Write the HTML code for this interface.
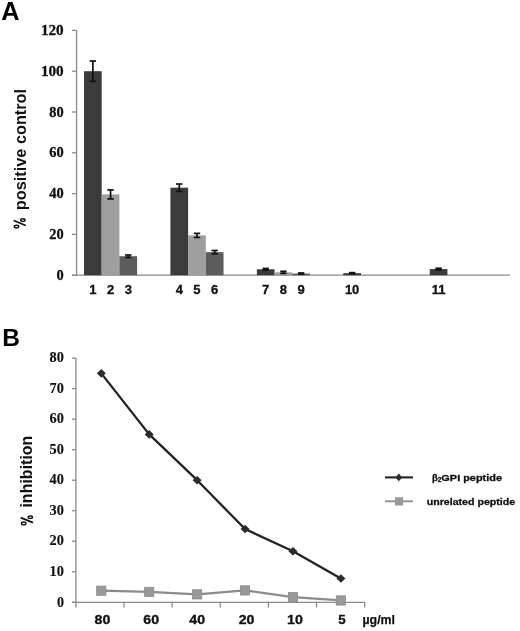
<!DOCTYPE html><html><head><meta charset="utf-8"><style>html,body{margin:0;padding:0;background:#fff;}svg{display:block;will-change:transform;}</style></head><body>
<svg width="520" height="631" viewBox="0 0 520 631">
<rect width="520" height="631" fill="#fff"/>
<text x="1.3" y="19.6" font-family="Liberation Sans" font-weight="bold" font-size="25" fill="#000" textLength="18.3" lengthAdjust="spacingAndGlyphs">A</text>
<text x="2.2" y="346.4" font-family="Liberation Sans" font-weight="bold" font-size="24.5" fill="#000">B</text>
<g stroke="#8a8a8a" stroke-width="1.3" fill="none">
<line x1="76.6" y1="30.40" x2="76.6" y2="275.8"/>
<line x1="72" y1="275.20" x2="76.6" y2="275.20"/>
<line x1="72" y1="234.40" x2="76.6" y2="234.40"/>
<line x1="72" y1="193.60" x2="76.6" y2="193.60"/>
<line x1="72" y1="152.80" x2="76.6" y2="152.80"/>
<line x1="72" y1="112.00" x2="76.6" y2="112.00"/>
<line x1="72" y1="71.20" x2="76.6" y2="71.20"/>
<line x1="72" y1="30.40" x2="76.6" y2="30.40"/>
<line x1="72" y1="275.2" x2="510" y2="275.2"/>
</g>
<g font-family="Liberation Serif" font-weight="bold" font-size="14.2" fill="#111" stroke="#111" stroke-width="0.3" text-anchor="end">
<text x="63.7" y="279.70" textLength="7.2" lengthAdjust="spacingAndGlyphs">0</text>
<text x="63.7" y="238.90" textLength="14.4" lengthAdjust="spacingAndGlyphs">20</text>
<text x="63.7" y="198.10" textLength="14.4" lengthAdjust="spacingAndGlyphs">40</text>
<text x="63.7" y="157.30" textLength="14.4" lengthAdjust="spacingAndGlyphs">60</text>
<text x="63.7" y="116.50" textLength="14.4" lengthAdjust="spacingAndGlyphs">80</text>
<text x="63.7" y="75.70" textLength="22.8" lengthAdjust="spacingAndGlyphs">100</text>
<text x="63.7" y="34.90" textLength="22.8" lengthAdjust="spacingAndGlyphs">120</text>
</g>
<rect x="84.00" y="71.20" width="17.7" height="204.00" fill="#3b3b3b"/>
<rect x="101.70" y="194.42" width="17.7" height="80.78" fill="#9f9f9f"/>
<rect x="119.40" y="256.23" width="17.7" height="18.97" fill="#5c5c5c"/>
<rect x="170.43" y="187.68" width="17.7" height="87.52" fill="#3b3b3b"/>
<rect x="188.13" y="235.42" width="17.7" height="39.78" fill="#9f9f9f"/>
<rect x="205.83" y="252.15" width="17.7" height="23.05" fill="#5c5c5c"/>
<rect x="256.86" y="269.28" width="17.7" height="5.92" fill="#3b3b3b"/>
<rect x="274.56" y="272.34" width="17.7" height="2.86" fill="#9f9f9f"/>
<rect x="292.26" y="273.57" width="17.7" height="1.63" fill="#5c5c5c"/>
<rect x="343.29" y="273.16" width="17.7" height="2.04" fill="#3b3b3b"/>
<rect x="429.72" y="269.08" width="17.7" height="6.12" fill="#3b3b3b"/>
<g stroke="#111" stroke-width="1.7" fill="none">
<line x1="92.85" y1="61.00" x2="92.85" y2="81.40"/>
<line x1="89.65" y1="61.00" x2="96.05" y2="61.00"/>
<line x1="89.65" y1="81.40" x2="96.05" y2="81.40"/>
<line x1="110.55" y1="189.93" x2="110.55" y2="198.90"/>
<line x1="107.35" y1="189.93" x2="113.75" y2="189.93"/>
<line x1="107.35" y1="198.90" x2="113.75" y2="198.90"/>
<line x1="128.25" y1="255.00" x2="128.25" y2="257.45"/>
<line x1="125.05" y1="255.00" x2="131.45" y2="255.00"/>
<line x1="125.05" y1="257.45" x2="131.45" y2="257.45"/>
<line x1="179.28" y1="184.01" x2="179.28" y2="191.36"/>
<line x1="176.08" y1="184.01" x2="182.48" y2="184.01"/>
<line x1="176.08" y1="191.36" x2="182.48" y2="191.36"/>
<line x1="196.98" y1="233.38" x2="196.98" y2="237.46"/>
<line x1="193.78" y1="233.38" x2="200.18" y2="233.38"/>
<line x1="193.78" y1="237.46" x2="200.18" y2="237.46"/>
<line x1="214.68" y1="250.52" x2="214.68" y2="253.78"/>
<line x1="211.48" y1="250.52" x2="217.88" y2="250.52"/>
<line x1="211.48" y1="253.78" x2="217.88" y2="253.78"/>
<line x1="265.71" y1="268.47" x2="265.71" y2="270.10"/>
<line x1="262.51" y1="268.47" x2="268.91" y2="268.47"/>
<line x1="262.51" y1="270.10" x2="268.91" y2="270.10"/>
<line x1="283.41" y1="271.32" x2="283.41" y2="273.36"/>
<line x1="280.21" y1="271.32" x2="286.61" y2="271.32"/>
<line x1="280.21" y1="273.36" x2="286.61" y2="273.36"/>
<line x1="301.11" y1="272.96" x2="301.11" y2="274.18"/>
<line x1="297.91" y1="272.96" x2="304.31" y2="272.96"/>
<line x1="297.91" y1="274.18" x2="304.31" y2="274.18"/>
<line x1="352.14" y1="272.65" x2="352.14" y2="273.67"/>
<line x1="348.94" y1="272.65" x2="355.34" y2="272.65"/>
<line x1="348.94" y1="273.67" x2="355.34" y2="273.67"/>
<line x1="438.57" y1="268.26" x2="438.57" y2="269.90"/>
<line x1="435.37" y1="268.26" x2="441.77" y2="268.26"/>
<line x1="435.37" y1="269.90" x2="441.77" y2="269.90"/>
</g>
<g font-family="Liberation Sans" font-weight="bold" font-size="13" fill="#111" stroke="#111" stroke-width="0.3" text-anchor="middle">
<text x="92.85" y="294.2">1</text>
<text x="110.55" y="294.2">2</text>
<text x="128.25" y="294.2">3</text>
<text x="179.28" y="294.2">4</text>
<text x="196.98" y="294.2">5</text>
<text x="214.68" y="294.2">6</text>
<text x="265.71" y="294.2">7</text>
<text x="283.41" y="294.2">8</text>
<text x="301.11" y="294.2">9</text>
<text x="352.14" y="294.2">10</text>
<text x="438.57" y="294.2">11</text>
</g>
<text transform="translate(25.6,88.9) rotate(-90)" font-family="Liberation Sans" font-weight="bold" font-size="16.3" fill="#111" text-anchor="end">positive control</text>
<g fill="none" stroke="#111"><ellipse cx="22.9" cy="220.1" rx="2.2" ry="1.3" stroke-width="1.4"/><ellipse cx="16.5" cy="226.6" rx="2.3" ry="1.35" stroke-width="1.4"/><line x1="14.3" y1="220.7" x2="25.2" y2="225.2" stroke-width="1.7" stroke-linecap="round"/></g>
<g stroke="#8a8a8a" stroke-width="1.3" fill="none">
<line x1="75.9" y1="358.10" x2="75.9" y2="607.5"/>
<line x1="72" y1="602.30" x2="75.9" y2="602.30"/>
<line x1="72" y1="571.77" x2="75.9" y2="571.77"/>
<line x1="72" y1="541.25" x2="75.9" y2="541.25"/>
<line x1="72" y1="510.72" x2="75.9" y2="510.72"/>
<line x1="72" y1="480.20" x2="75.9" y2="480.20"/>
<line x1="72" y1="449.67" x2="75.9" y2="449.67"/>
<line x1="72" y1="419.15" x2="75.9" y2="419.15"/>
<line x1="72" y1="388.62" x2="75.9" y2="388.62"/>
<line x1="72" y1="358.10" x2="75.9" y2="358.10"/>
<line x1="72" y1="602.3" x2="364.7" y2="602.3"/>
<line x1="124.03" y1="602.3" x2="124.03" y2="607.5"/>
<line x1="172.15" y1="602.3" x2="172.15" y2="607.5"/>
<line x1="220.28" y1="602.3" x2="220.28" y2="607.5"/>
<line x1="268.40" y1="602.3" x2="268.40" y2="607.5"/>
<line x1="316.52" y1="602.3" x2="316.52" y2="607.5"/>
<line x1="364.65" y1="602.3" x2="364.65" y2="607.5"/>
</g>
<g font-family="Liberation Serif" font-weight="bold" font-size="14" fill="#111" stroke="#111" stroke-width="0.15" text-anchor="end">
<text x="63.9" y="606.50" textLength="7.0" lengthAdjust="spacingAndGlyphs">0</text>
<text x="63.9" y="575.98" textLength="14.3" lengthAdjust="spacingAndGlyphs">10</text>
<text x="63.9" y="545.45" textLength="14.3" lengthAdjust="spacingAndGlyphs">20</text>
<text x="63.9" y="514.92" textLength="14.3" lengthAdjust="spacingAndGlyphs">30</text>
<text x="63.9" y="484.40" textLength="14.3" lengthAdjust="spacingAndGlyphs">40</text>
<text x="63.9" y="453.87" textLength="14.3" lengthAdjust="spacingAndGlyphs">50</text>
<text x="63.9" y="423.35" textLength="14.3" lengthAdjust="spacingAndGlyphs">60</text>
<text x="63.9" y="392.82" textLength="14.3" lengthAdjust="spacingAndGlyphs">70</text>
<text x="63.9" y="362.30" textLength="14.3" lengthAdjust="spacingAndGlyphs">80</text>
</g>
<polyline points="101.30,373.36 149.22,434.41 197.14,480.20 245.06,529.04 292.98,551.32 340.90,578.49" fill="none" stroke="#222" stroke-width="2.3" stroke-linejoin="round"/>
<path d="M101.30,369.06 L105.80,373.36 L101.30,377.66 L96.80,373.36Z" fill="#2b2b2b"/>
<path d="M149.22,430.11 L153.72,434.41 L149.22,438.71 L144.72,434.41Z" fill="#2b2b2b"/>
<path d="M197.14,475.90 L201.64,480.20 L197.14,484.50 L192.64,480.20Z" fill="#2b2b2b"/>
<path d="M245.06,524.74 L249.56,529.04 L245.06,533.34 L240.56,529.04Z" fill="#2b2b2b"/>
<path d="M292.98,547.02 L297.48,551.32 L292.98,555.62 L288.48,551.32Z" fill="#2b2b2b"/>
<path d="M340.90,574.19 L345.40,578.49 L340.90,582.79 L336.40,578.49Z" fill="#2b2b2b"/>
<polyline points="101.30,590.70 149.22,591.92 197.14,594.36 245.06,590.40 292.98,597.11 340.90,600.47" fill="none" stroke="#8c8c8c" stroke-width="2.2" stroke-linejoin="round"/>
<rect x="96.70" y="586.10" width="9.2" height="9.2" fill="#999" stroke="#8a8a8a" stroke-width="0.8"/>
<rect x="144.62" y="587.32" width="9.2" height="9.2" fill="#999" stroke="#8a8a8a" stroke-width="0.8"/>
<rect x="192.54" y="589.76" width="9.2" height="9.2" fill="#999" stroke="#8a8a8a" stroke-width="0.8"/>
<rect x="240.46" y="585.80" width="9.2" height="9.2" fill="#999" stroke="#8a8a8a" stroke-width="0.8"/>
<rect x="288.38" y="592.51" width="9.2" height="9.2" fill="#999" stroke="#8a8a8a" stroke-width="0.8"/>
<rect x="336.30" y="595.87" width="9.2" height="9.2" fill="#999" stroke="#8a8a8a" stroke-width="0.8"/>
<g font-family="Liberation Sans" font-weight="bold" font-size="12" fill="#111" stroke="#111" stroke-width="0.3" text-anchor="middle">
<text x="102.5" y="624.2" textLength="15.8" lengthAdjust="spacingAndGlyphs">80</text>
<text x="151.25" y="624.2" textLength="15.8" lengthAdjust="spacingAndGlyphs">60</text>
<text x="197.25" y="624.2" textLength="15.8" lengthAdjust="spacingAndGlyphs">40</text>
<text x="246.6" y="624.2" textLength="15.8" lengthAdjust="spacingAndGlyphs">20</text>
<text x="295" y="624.2" textLength="15.8" lengthAdjust="spacingAndGlyphs">10</text>
<text x="341.9" y="624.2" textLength="7.4" lengthAdjust="spacingAndGlyphs">5</text>
</g>
<text x="362.5" y="623.5" font-family="Liberation Sans" font-weight="bold" font-size="12" fill="#111" stroke="#111" stroke-width="0.25" textLength="32.5" lengthAdjust="spacingAndGlyphs">µg/ml</text>
<text transform="translate(32.2,435.6) rotate(-90)" font-family="Liberation Sans" font-weight="bold" font-size="16" fill="#111" text-anchor="end">inhibition</text>
<g fill="none" stroke="#111"><ellipse cx="30.3" cy="517.2" rx="2.2" ry="1.2" stroke-width="1.4"/><ellipse cx="23.7" cy="523.4" rx="2.2" ry="1.45" stroke-width="1.4"/><line x1="21.3" y1="517.9" x2="32.4" y2="522.4" stroke-width="1.7" stroke-linecap="round"/></g>
<line x1="385" y1="477.4" x2="413" y2="477.4" stroke="#222" stroke-width="2.1"/>
<path d="M398.8,473.6 L402.2,477.4 L398.8,481.2 L395.4,477.4Z" fill="#2b2b2b"/>
<line x1="385" y1="501.3" x2="413" y2="501.3" stroke="#8c8c8c" stroke-width="1.8"/>
<rect x="394.9" y="497.3" width="8.2" height="8.2" fill="#999"/>
<text x="431.9" y="480.6" font-family="Liberation Sans" font-weight="bold" font-size="9.6" fill="#111" stroke="#111" stroke-width="0.3">β<tspan font-size="6.5" dy="1.8">2</tspan><tspan dy="-1.8" textLength="60.6" lengthAdjust="spacingAndGlyphs">GPI peptide</tspan></text>
<text x="426.7" y="504.6" font-family="Liberation Sans" font-weight="bold" font-size="9.6" fill="#111" stroke="#111" stroke-width="0.3" textLength="88.5" lengthAdjust="spacingAndGlyphs">unrelated peptide</text>
</svg></body></html>
